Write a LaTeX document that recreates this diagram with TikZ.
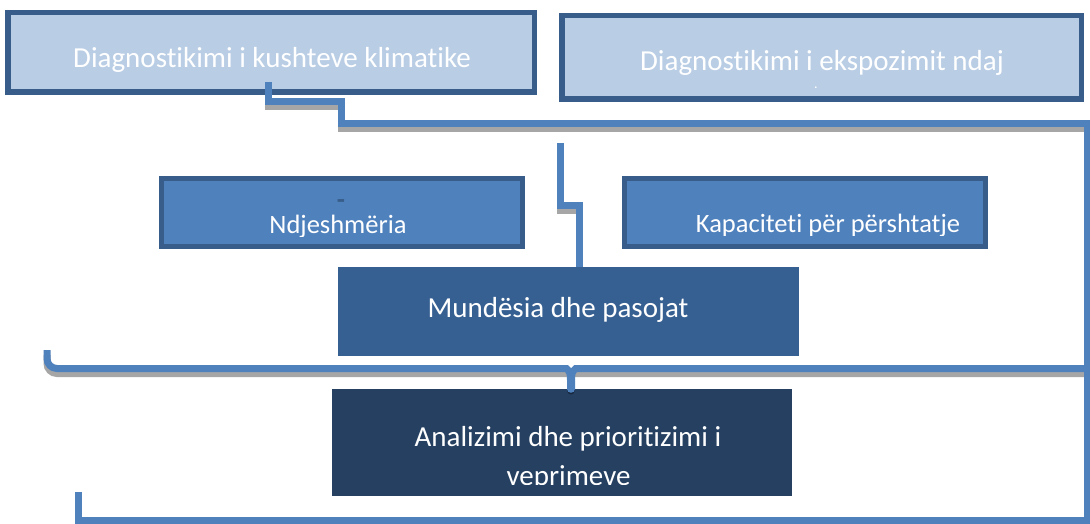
\documentclass[tikz,border=0pt]{standalone}
\usepackage{fontspec}
\setmainfont{Carlito}[Ligatures={NoCommon,NoContextual}]
\definecolor{lightfill}{HTML}{B9CDE5}
\definecolor{darkborder}{HTML}{385D8A}
\definecolor{midfill}{HTML}{4F81BD}
\definecolor{mundfill}{HTML}{376092}
\definecolor{analfill}{HTML}{254061}
\definecolor{connblue}{HTML}{4F81BD}
\tikzset{
  topbox/.style={draw=darkborder, line width=5.5pt, fill=lightfill, inner sep=0pt},
  midbox/.style={draw=darkborder, line width=5pt, fill=midfill, inner sep=0pt},
  plainbox/.style={inner sep=0pt},
  bigtext/.style={text=white, font=\fontsize{29}{34}\selectfont, inner sep=0pt, anchor=base},
  smalltext/.style={text=white, font=\fontsize{26.5}{31}\selectfont, inner sep=0pt, anchor=base},
  conn/.style={draw=connblue, line width=7pt, line join=miter},
  connshadow/.style={draw=black, draw opacity=0.35, line width=7pt, line join=miter},
}
\begin{document}
\begin{tikzpicture}[x=1pt,y=-1pt]
\useasboundingbox (0,0) rectangle (1090,524);
\fill[white] (0,0) rectangle (1090,524);

% boxes
\node[topbox, minimum width=526.5pt, minimum height=79.5pt] (b1) at (271,52.5) {};
\node[topbox, minimum width=519.5pt, minimum height=83.5pt] (b2) at (821.5,57.5) {};
\node[midbox, minimum width=361pt, minimum height=68pt] (ndj) at (342,212.5) {};
\node[midbox, minimum width=361pt, minimum height=68pt] (kap) at (805,212.5) {};
\node[plainbox, fill=mundfill, minimum width=461pt, minimum height=89pt] (mund) at (568.5,311.5) {};
\node[plainbox, fill=analfill, minimum width=460pt, minimum height=107pt] (anal) at (562,442.5) {};

% texts
\node[bigtext] (t1) at (272,68) {Diagnostikimi i kushteve klimatike};
\node[bigtext] (t2) at (822,71) {Diagnostikimi i ekspozimit ndaj};
\node[text=white, font=\fontsize{14}{16}\selectfont, inner sep=0pt, anchor=base] (t2b) at (816,89) {.};
\node[smalltext, text=darkborder, font=\fontsize{26.5}{31}\bfseries] (tndjd) at (341,208) {-};
\begin{scope}
  \clip (160,180) rectangle (525,236);
  \node[smalltext] (tndj) at (338,233.5) {Ndjeshmëria};
\end{scope}
\begin{scope}
  \clip (625,180) rectangle (985,235);
  \node[smalltext] (tkap) at (828,232.5) {Kapaciteti për përshtatje};
\end{scope}
\node[bigtext] (tmund) at (558,317) {Mundësia dhe pasojat};
\node[bigtext] (tanal1) at (568,446) {Analizimi dhe prioritizimi i};
\begin{scope}
  \clip (335,455) rectangle (790,484);
  \node[bigtext] (tanal2) at (568.5,485) {veprimeve};
\end{scope}

% connector coordinates
\coordinate (a0) at (268,82);
\coordinate (a1) at (268,102);
\coordinate (a2) at (341,102);
\coordinate (a3) at (341,123.5);
\coordinate (a4) at (1087.5,123.5);
\coordinate (a5) at (1087.5,520.5);
\coordinate (a6) at (78,520.5);
\coordinate (a7) at (78,492);
\coordinate (m0) at (560.5,143);
\coordinate (m1) at (560.5,205);
\coordinate (m2) at (579,205);
\coordinate (m3) at (579,262);
\coordinate (k0) at (47,350);
\coordinate (k1) at (47,368.5);
\coordinate (k2) at (1087.5,368.5);

% shadows (shifted down by 5px)
\begin{scope}[transform canvas={yshift=-5pt}]
\draw[connshadow] (a0) -- (a1) -- (a2) -- (a3) -- (a4) -- (a5) -- (a6) -- (a7);
\draw[connshadow] (m0) -- (m1) -- (m2) -- (m3);
\draw[connshadow, rounded corners=10pt] (k0) -- (k1) -- (k2);
\fill[black, opacity=0.35] (567,385) .. controls (567,391) and (575,391) .. (575,385) -- cycle;
\end{scope}

% connectors
\draw[conn] (a0) -- (a1) -- (a2) -- (a3) -- (a4) -- (a5) -- (a6) -- (a7);
\draw[conn] (m0) -- (m1) -- (m2) -- (m2 |- mund.north);
\draw[conn, rounded corners=10pt] (k0) -- (k1) -- (k2);
\fill[connblue] (561,371) -- (563,371) .. controls (567,372) and (567,376) .. (567,380)
  -- (567,389) .. controls (567,394) and (575,394) .. (575,389) -- (575,380)
  .. controls (575,376) and (575,372) .. (579,371) -- (581,371) -- (581,368) -- (561,368) -- cycle;
\fill[white] (568,365) -- (574,365) -- (571,368) -- cycle;
\end{tikzpicture}
\end{document}
